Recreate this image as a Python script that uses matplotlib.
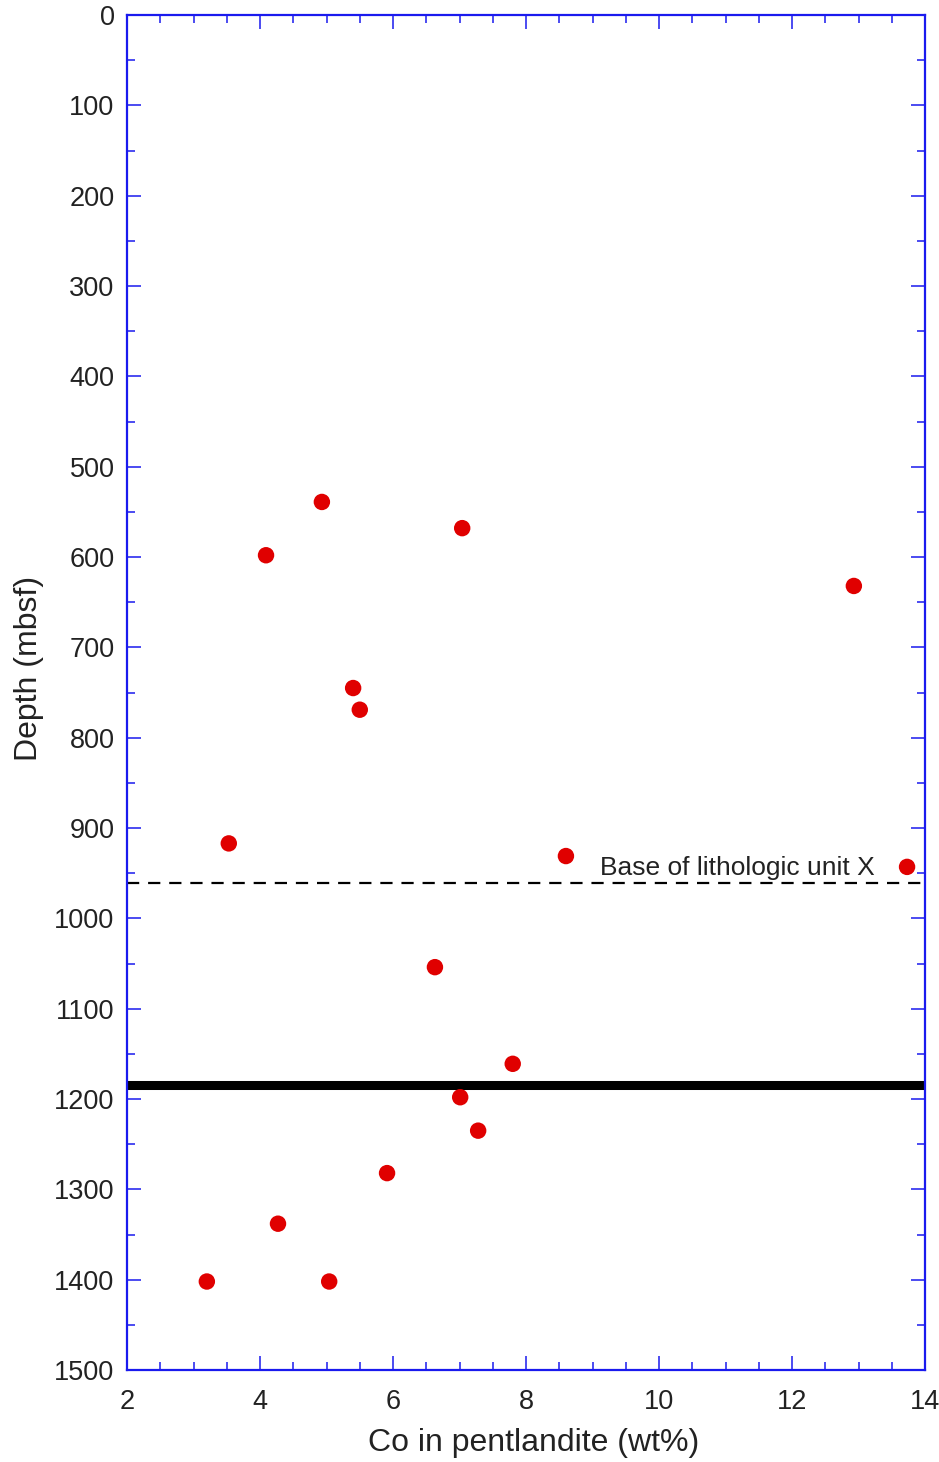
import matplotlib
matplotlib.use("Agg")
import matplotlib.pyplot as plt
from matplotlib.ticker import MultipleLocator

co_wt = [4.93, 4.09, 7.04, 12.93, 5.40, 5.50, 3.53, 8.60, 13.73,
         6.63, 7.80, 7.01, 7.28, 5.91, 4.27, 3.20, 5.04]
depth = [539, 598, 568, 632, 745, 769, 917, 931, 943,
         1054, 1161, 1198, 1235, 1282, 1338, 1402, 1402]
unit_x_base = 961
solid_line_depth = 1184
label_text = "Base of lithologic unit X"

plt.rcParams['font.family'] = ['Liberation Sans', 'DejaVu Sans']

fig = plt.figure(figsize=(9.39, 14.62), dpi=100)
ax = fig.add_axes([0.1353, 0.0629, 0.8498, 0.9268])

ax.axhline(unit_x_base, color='black', lw=1.6, ls=(0, (5.5, 4)), zorder=2)
ax.axhline(solid_line_depth, color='black', lw=6.5, zorder=2)
ax.text(13.25, unit_x_base - 4, label_text, ha='right', va='bottom',
        fontsize=19, color='#222222', zorder=3)
ax.scatter(co_wt, depth, s=140, color='#e00000', edgecolors='none', zorder=4)

ax.set_xlim(2, 14)
ax.set_ylim(1500, 0)
ax.xaxis.set_major_locator(MultipleLocator(2))
ax.xaxis.set_minor_locator(MultipleLocator(0.5))
ax.yaxis.set_major_locator(MultipleLocator(100))
ax.yaxis.set_minor_locator(MultipleLocator(50))

blue = '#1a1aee'
for s in ax.spines.values():
    s.set_color(blue)
    s.set_linewidth(1.6)
ax.tick_params(which='both', direction='in', top=True, right=True,
               color=blue, labelsize=19.5, labelcolor='#222222')
ax.tick_params(which='major', length=10, width=1.1)
ax.tick_params(axis='y', which='major', pad=9)
ax.tick_params(axis='x', which='major', pad=14)
ax.tick_params(which='minor', length=5.5, width=1.1)

ax.set_xlabel("Co in pentlandite (wt%)", fontsize=23, color='#222222', labelpad=8)
ax.set_ylabel("Depth (mbsf)", fontsize=23, color='#222222', labelpad=7)
ax.xaxis.set_label_coords(0.509, -0.043)
ax.yaxis.label.set_y(0.518)

fig.savefig("out.png", dpi=100)
